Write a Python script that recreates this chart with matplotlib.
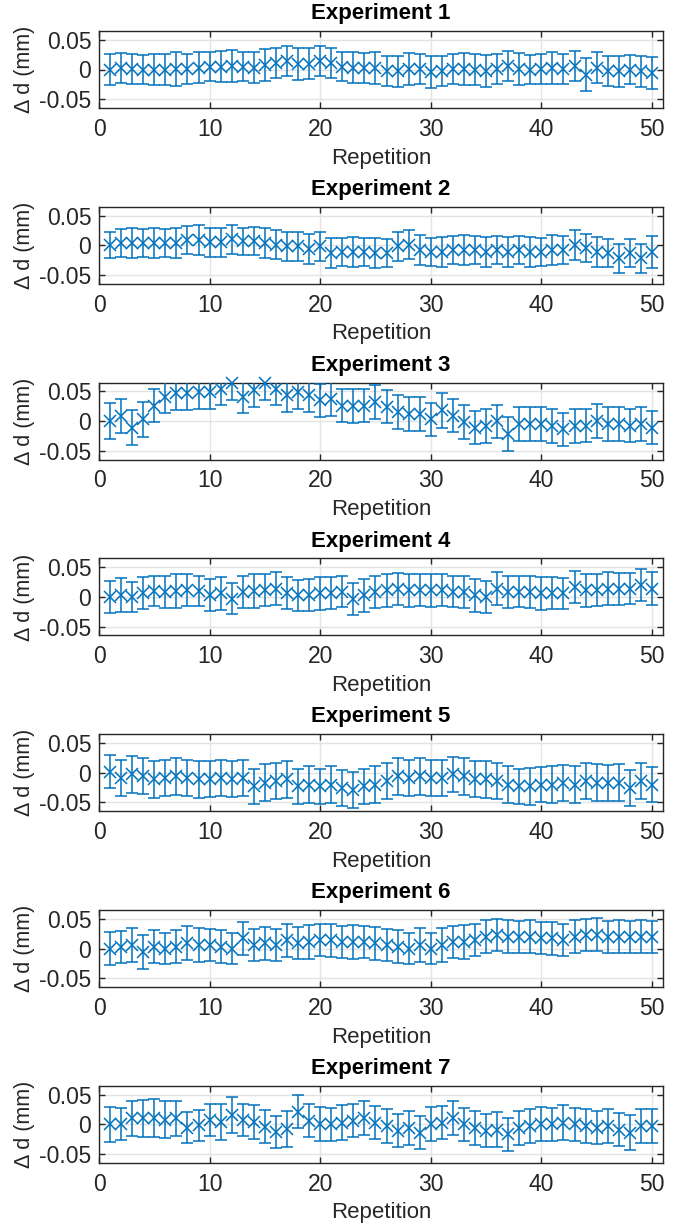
import matplotlib
matplotlib.use('Agg')
import matplotlib.pyplot as plt

plt.rcParams['font.family'] = ['Liberation Sans', 'DejaVu Sans']

repetitions = list(range(1, 51))
titles = ['Experiment 1', 'Experiment 2', 'Experiment 3', 'Experiment 4',
          'Experiment 5', 'Experiment 6', 'Experiment 7']
x_ticks = [0, 10, 20, 30, 40, 50]
y_ticks = [-0.05, 0, 0.05]
y_tick_labels = ['-0.05', '0', '0.05']

exp1_mean = [0, 0.003, 0.001, 0, 0, 0, 0.001, 0.001, 0.003, 0.005,
             0.005, 0.006, 0.005, 0.003, 0.007, 0.011, 0.014, 0.009, 0.010, 0.014,
             0.011, 0.005, 0.003, 0.003, 0.003, -0.003, -0.003, 0.001, 0.001, -0.005,
             -0.003, 0.001, 0.001, 0, -0.003, 0.001, 0.006, 0.001, 0, 0.001,
             0.003, 0.001, 0.006, -0.009, 0.003, -0.003, -0.003, 0, -0.003, -0.006]
exp1_err = [0.026, 0.025, 0.026, 0.025, 0.026, 0.027, 0.029, 0.025, 0.026, 0.025,
            0.026, 0.027, 0.025, 0.026, 0.027, 0.026, 0.025, 0.027, 0.026, 0.025,
            0.026, 0.025, 0.026, 0.025, 0.027, 0.025, 0.026, 0.027, 0.026, 0.027,
            0.025, 0.026, 0.027, 0.026, 0.027, 0.026, 0.026, 0.027, 0.025, 0.026,
            0.027, 0.025, 0.026, 0.028, 0.026, 0.025, 0.026, 0.025, 0.026, 0.027]

exp2_mean = [0, 0.004, 0.004, 0.004, 0.004, 0.004, 0.004, 0.009, 0.009, 0.005,
             0.005, 0.010, 0.007, 0.007, 0.004, 0.001, -0.002, -0.002, -0.006, -0.002,
             -0.013, -0.011, -0.011, -0.011, -0.013, -0.013, -0.002, 0.001, -0.008, -0.011,
             -0.011, -0.008, -0.008, -0.008, -0.011, -0.008, -0.011, -0.008, -0.011, -0.011,
             -0.008, -0.008, 0.001, -0.005, -0.011, -0.013, -0.022, -0.013, -0.022, -0.011]
exp2_err = [0.022, 0.024, 0.025, 0.024, 0.025, 0.024, 0.025, 0.024, 0.025, 0.024,
            0.025, 0.024, 0.023, 0.024, 0.025, 0.024, 0.025, 0.024, 0.025, 0.024,
            0.025, 0.024, 0.025, 0.024, 0.025, 0.024, 0.025, 0.024, 0.025, 0.024,
            0.025, 0.024, 0.025, 0.024, 0.025, 0.024, 0.025, 0.024, 0.025, 0.024,
            0.025, 0.024, 0.025, 0.024, 0.025, 0.024, 0.025, 0.024, 0.025, 0.027]

exp3_mean = [0, 0.009, -0.011, 0.003, 0.026, 0.041, 0.047, 0.047, 0.049, 0.049,
             0.055, 0.064, 0.041, 0.052, 0.064, 0.055, 0.044, 0.049, 0.044, 0.035,
             0.038, 0.026, 0.026, 0.026, 0.032, 0.024, 0.015, 0.012, 0.012, 0.003,
             0.018, 0.009, -0.002, -0.011, -0.008, 0, -0.022, -0.005, -0.005, -0.005,
             -0.008, -0.014, -0.008, -0.008, 0, -0.005, -0.005, -0.008, -0.005, -0.011]
exp3_err = [0.031, 0.029, 0.030, 0.029, 0.028, 0.028, 0.029, 0.028, 0.028, 0.029,
            0.028, 0.029, 0.028, 0.028, 0.029, 0.028, 0.029, 0.028, 0.029, 0.028,
            0.029, 0.028, 0.029, 0.028, 0.029, 0.028, 0.029, 0.028, 0.029, 0.028,
            0.029, 0.028, 0.029, 0.028, 0.029, 0.028, 0.029, 0.028, 0.029, 0.028,
            0.029, 0.028, 0.029, 0.028, 0.029, 0.028, 0.029, 0.028, 0.029, 0.028]

exp4_mean = [0, 0.003, 0, 0.006, 0.010, 0.009, 0.010, 0.011, 0.010, 0.003,
             0.006, -0.003, 0.009, 0.010, 0.011, 0.014, 0.006, 0.003, 0.003, 0.006,
             0.006, 0.009, -0.003, 0.003, 0.009, 0.011, 0.014, 0.011, 0.011, 0.011,
             0.011, 0.009, 0.009, 0.003, 0, 0.014, 0.009, 0.009, 0.009, 0.006,
             0.006, 0.006, 0.017, 0.011, 0.011, 0.014, 0.014, 0.014, 0.020, 0.014]
exp4_err = [0.027, 0.029, 0.026, 0.027, 0.026, 0.027, 0.028, 0.027, 0.026, 0.027,
            0.028, 0.026, 0.027, 0.028, 0.027, 0.028, 0.027, 0.026, 0.027, 0.028,
            0.027, 0.026, 0.027, 0.028, 0.027, 0.028, 0.027, 0.028, 0.027, 0.028,
            0.027, 0.026, 0.027, 0.028, 0.027, 0.028, 0.027, 0.026, 0.027, 0.028,
            0.027, 0.026, 0.027, 0.028, 0.027, 0.028, 0.027, 0.026, 0.027, 0.028]

exp5_mean = [0.002, -0.009, -0.003, -0.006, -0.011, -0.009, -0.006, -0.009, -0.011, -0.011,
             -0.009, -0.011, -0.009, -0.023, -0.017, -0.014, -0.011, -0.023, -0.020, -0.023,
             -0.020, -0.026, -0.029, -0.023, -0.020, -0.014, -0.006, -0.009, -0.006, -0.009,
             -0.009, -0.003, -0.006, -0.011, -0.011, -0.014, -0.020, -0.023, -0.023, -0.020,
             -0.020, -0.017, -0.020, -0.014, -0.017, -0.017, -0.017, -0.026, -0.014, -0.020]
exp5_err = [0.028, 0.030, 0.031, 0.030, 0.031, 0.030, 0.031, 0.030, 0.031, 0.030,
            0.031, 0.030, 0.031, 0.030, 0.031, 0.030, 0.031, 0.030, 0.031, 0.030,
            0.031, 0.030, 0.031, 0.030, 0.031, 0.030, 0.031, 0.030, 0.031, 0.030,
            0.031, 0.030, 0.031, 0.030, 0.031, 0.030, 0.031, 0.030, 0.031, 0.030,
            0.031, 0.030, 0.031, 0.030, 0.031, 0.030, 0.031, 0.030, 0.031, 0.030]

exp6_mean = [0, 0.003, 0.006, -0.006, 0.003, 0, 0.003, 0.009, 0.006, 0.006,
             0.003, 0, 0.017, 0.006, 0.009, 0.006, 0.014, 0.009, 0.011, 0.014,
             0.014, 0.011, 0.011, 0.011, 0.009, 0.006, 0.003, 0, 0.006, 0,
             0.006, 0.011, 0.011, 0.014, 0.020, 0.023, 0.020, 0.020, 0.020, 0.017,
             0.017, 0.014, 0.020, 0.023, 0.023, 0.020, 0.020, 0.020, 0.020, 0.020]
exp6_err = [0.028, 0.027, 0.028, 0.029, 0.028, 0.027, 0.028, 0.029, 0.028, 0.027,
            0.028, 0.027, 0.028, 0.027, 0.028, 0.027, 0.028, 0.027, 0.028, 0.027,
            0.028, 0.027, 0.028, 0.027, 0.028, 0.027, 0.028, 0.027, 0.028, 0.027,
            0.028, 0.027, 0.028, 0.027, 0.028, 0.027, 0.028, 0.027, 0.028, 0.027,
            0.028, 0.027, 0.028, 0.027, 0.028, 0.027, 0.028, 0.027, 0.028, 0.027]

exp7_mean = [0, 0, 0.010, 0.010, 0.010, 0.008, 0.010, -0.006, -0.002, 0.007,
             0.004, 0.016, 0.008, 0.004, -0.004, -0.013, -0.008, 0.021, 0.006, 0,
             0, 0.003, 0.006, 0.011, 0.003, -0.003, -0.011, -0.006, -0.014, 0,
             0.003, 0.011, 0, -0.006, -0.011, -0.009, -0.017, -0.006, -0.003, 0,
             0, 0.003, 0, -0.003, -0.006, -0.003, -0.009, -0.014, -0.003, -0.003]
exp7_err = [0.030, 0.027, 0.030, 0.031, 0.032, 0.031, 0.030, 0.026, 0.026, 0.027,
            0.031, 0.030, 0.027, 0.028, 0.028, 0.027, 0.030, 0.028, 0.028, 0.029,
            0.028, 0.029, 0.028, 0.029, 0.028, 0.029, 0.028, 0.029, 0.028, 0.029,
            0.028, 0.029, 0.028, 0.029, 0.028, 0.029, 0.028, 0.029, 0.028, 0.029,
            0.028, 0.029, 0.028, 0.029, 0.028, 0.029, 0.028, 0.029, 0.028, 0.029]

means = [exp1_mean, exp2_mean, exp3_mean, exp4_mean, exp5_mean, exp6_mean, exp7_mean]
errs = [exp1_err, exp2_err, exp3_err, exp4_err, exp5_err, exp6_err, exp7_err]

W, H = 689, 1228
fig = plt.figure(figsize=(W / 100, H / 100), dpi=100)
color = '#0072BD'
dark = '#262626'

for k in range(7):
    top_px = 31 + k * 175.8
    ax = fig.add_axes([99 / W, 1 - (top_px + 77) / H, 564 / W, 77 / H])
    dl, caps, bars = ax.errorbar(repetitions, means[k], yerr=errs[k], fmt='x',
                                 color=color, ms=8.5, mew=1.1, elinewidth=1.1,
                                 capsize=4.2, capthick=1.1, zorder=3)
    dl.set_clip_on(False)
    ax.set_xlim(0, 51)
    ax.set_ylim(-0.065, 0.065)
    ax.set_xticks(x_ticks)
    ax.set_yticks(y_ticks)
    ax.set_yticklabels(y_tick_labels)
    ax.grid(True, color='#e3e3e3', lw=1.0)
    ax.set_axisbelow(True)
    ax.tick_params(direction='in', top=True, right=True, labelsize=16.5,
                   length=4, width=1, color=dark, labelcolor=dark, pad=5.5)
    ax.tick_params(axis='x', pad=7)
    for s in ax.spines.values():
        s.set_color(dark)
        s.set_linewidth(1.0)
    ax.set_title(titles[k], fontsize=16, fontweight='bold', pad=8.5, color='black')
    ax.set_xlabel('Repetition', fontsize=16, color=dark, labelpad=5)
    ax.set_ylabel('Δ d (mm)', fontsize=15.5, color=dark, labelpad=3)

fig.savefig('out.png', dpi=100)
